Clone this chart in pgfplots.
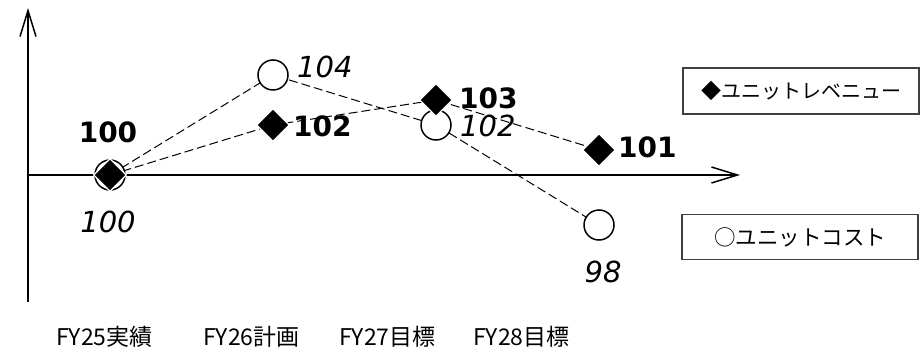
\documentclass[border=0pt]{standalone}
\usepackage{pgfplots}
\pgfplotsset{compat=1.18}
\usepackage{fontspec}
\usetikzlibrary{arrows.meta}
\setmainfont{Noto Sans CJK JP}
\newfontfamily\numfont{DejaVu Sans}
% value labels: bold for revenue, oblique for cost
\newcommand\bnum[1]{{\numfont\fontsize{28bp}{30bp}\selectfont\bfseries #1}}
\newcommand\inum[1]{{\numfont\fontsize{29bp}{31bp}\selectfont\itshape #1}}
\newcommand\jp{\fontsize{23bp}{26bp}\selectfont}
\begin{document}
\begin{tikzpicture}[x=1bp,y=1bp]
\useasboundingbox (0,0) rectangle (924,352);
\begin{axis}[
  at={(28bp,50bp)}, anchor=south west,
  scale only axis, width=712bp, height=294bp,
  xmin=-0.503, xmax=3.865, ymin=94.92, ymax=106.68,
  hide axis, clip=false,
]
% axes with open arrow heads
\draw[line width=1.5bp, -{Straight Barb[length=26bp,width=16bp,line width=1.5bp]}]
  (axis cs:-0.503,100) -- (axis cs:3.865,100);
\draw[line width=1.5bp, -{Straight Barb[length=26bp,width=16bp,line width=1.5bp]}]
  (axis cs:-0.503,94.92) -- (axis cs:-0.503,106.68);
% unit cost
\addplot[black, line width=1bp, dash pattern=on 9bp off 4bp,
  mark=*, mark size=15bp,
  mark options={solid, fill=white, draw=black, line width=1.5bp}]
  coordinates {(0,100) (1,104) (2,102) (3,98)};
% unit revenue
\addplot[black, line width=1bp, dash pattern=on 9bp off 4bp,
  mark=square*, mark size=11.5bp,
  mark options={solid, rotate=45, fill=black, draw=white, line width=1.2bp}]
  coordinates {(0,100) (1,102) (2,103) (3,101)};
% value labels
\node[inner sep=0, xshift=-2bp, yshift=43bp] at (axis cs:0,100) {\bnum{100}};
\node[inner sep=0, xshift=-2bp, yshift=-47bp] at (axis cs:0,100) {\inum{100}};
\node[inner sep=0, anchor=west, xshift=24bp, yshift=8bp] at (axis cs:1,104) {\inum{104}};
\node[inner sep=0, anchor=west, xshift=20bp, yshift=-1bp] at (axis cs:1,102) {\bnum{102}};
\node[inner sep=0, anchor=west, xshift=23bp, yshift=2bp] at (axis cs:2,103) {\bnum{103}};
\node[inner sep=0, anchor=west, xshift=24bp, yshift=-1bp] at (axis cs:2,102) {\inum{102}};
\node[inner sep=0, anchor=west, xshift=19bp, yshift=3bp] at (axis cs:3,101) {\bnum{101}};
\node[inner sep=0, xshift=4bp, yshift=-47bp] at (axis cs:3,98) {\inum{98}};
\end{axis}
% category labels
\node[inner sep=0, font=\jp] at (104.5,15) {FY25実績};
\node[inner sep=0, font=\jp] at (251.5,15) {FY26計画};
\node[inner sep=0, font=\jp] at (387.5,15) {FY27目標};
\node[inner sep=0, font=\jp] at (521.5,15) {FY28目標};
% series keys
\node[draw=black!75, line width=1.3bp, minimum width=236bp, minimum height=46bp,
  inner sep=0, font=\fontsize{20bp}{24bp}\selectfont] at (801,261) {◆ユニットレベニュー};
\node[draw=black!75, line width=1.3bp, minimum width=236bp, minimum height=45bp,
  inner sep=0, font=\fontsize{21.5bp}{25bp}\selectfont] at (800,115) {○ユニットコスト};
\end{tikzpicture}
\end{document}
